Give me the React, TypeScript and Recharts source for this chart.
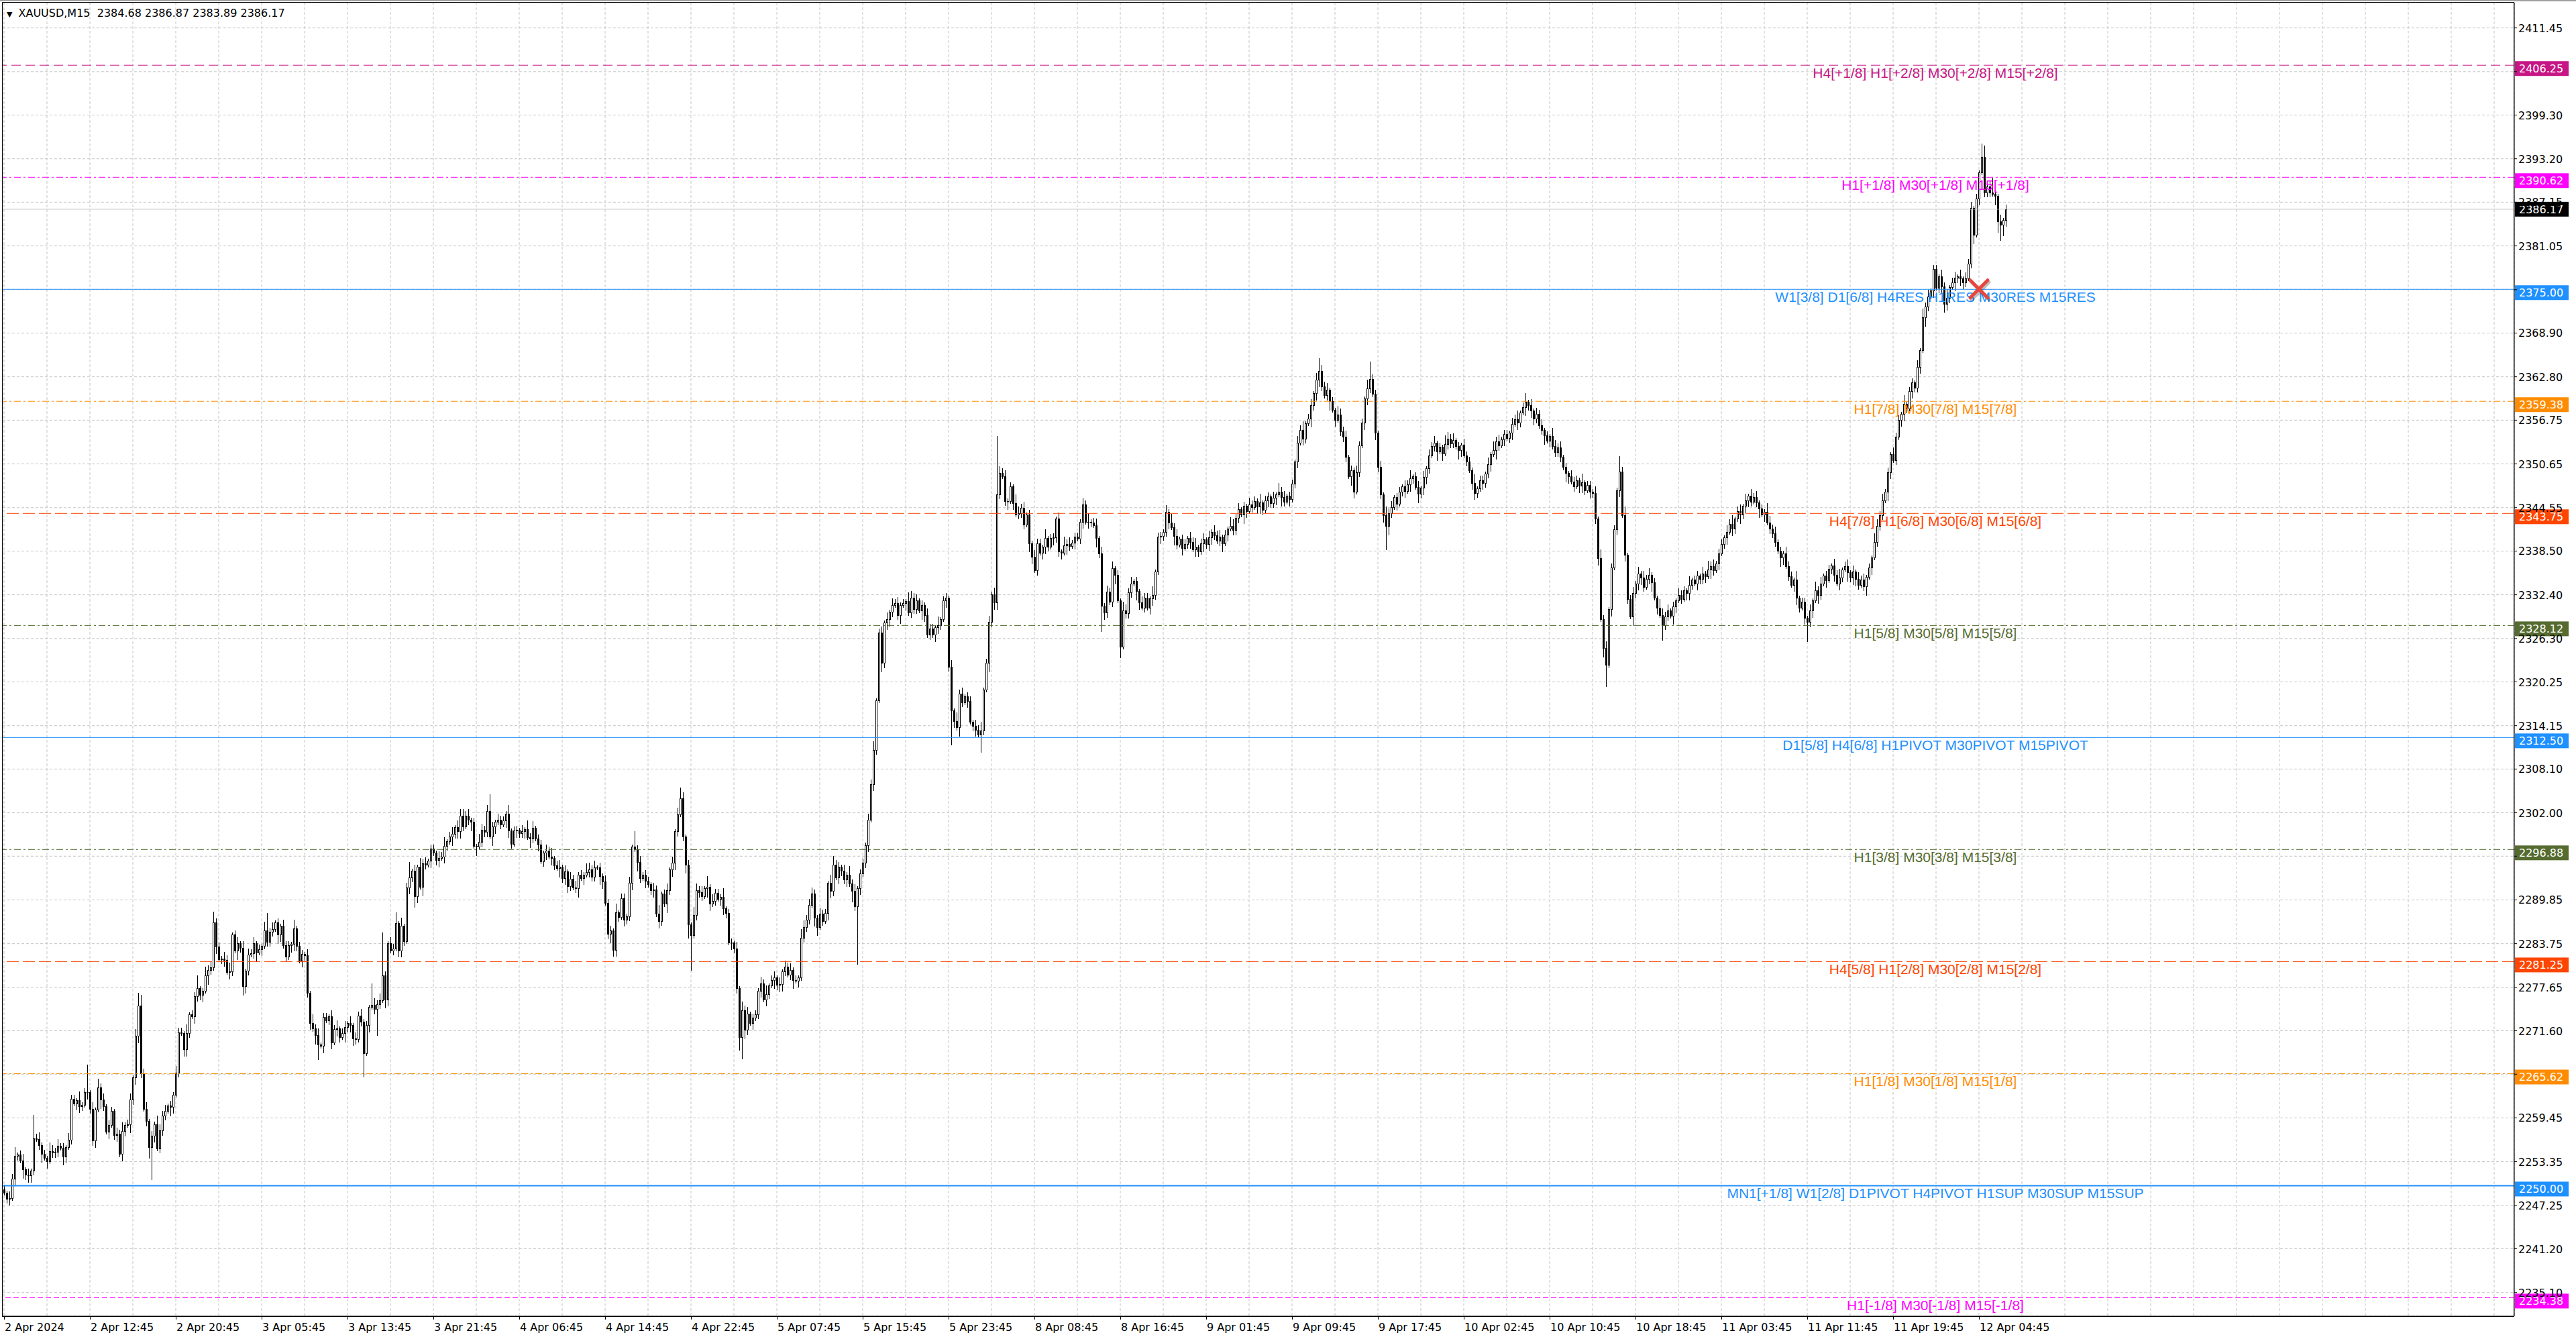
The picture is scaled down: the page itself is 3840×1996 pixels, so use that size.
import React from "react";
import {
  Bar,
  CartesianGrid,
  ComposedChart,
  ReferenceDot,
  ReferenceLine,
  XAxis,
  YAxis,
} from "recharts";

// XAUUSD M15, one entry per candle; open = previous close
const firstOpen = 2249.5;
const closes = [
  /* 0 */ 2249.0, 2248.2, 2248.3, 2251.0, 2254.2, 2254.3, 2253.5, 2252.3, 2251.5, 2251.4,
  /* 10 */ 2252.1, 2256.6, 2256.5, 2255.7, 2254.4, 2253.9, 2253.4, 2254.8, 2254.6, 2254.7,
  /* 20 */ 2255.6, 2255.3, 2254.1, 2255.4, 2256.4, 2262.1, 2261.5, 2261.9, 2261.1, 2261.3,
  /* 30 */ 2263.0, 2263.0, 2260.7, 2256.3, 2260.6, 2263.7, 2262.0, 2261.1, 2257.5, 2258.5,
  /* 40 */ 2260.4, 2257.1, 2257.2, 2254.4, 2257.6, 2258.5, 2258.6, 2262.0, 2265.1, 2270.9,
  /* 50 */ 2275.1, 2265.7, 2260.7, 2259.0, 2255.4, 2257.0, 2258.6, 2255.2, 2257.7, 2259.8,
  /* 60 */ 2260.4, 2261.2, 2261.0, 2262.7, 2265.8, 2271.4, 2271.3, 2269.0, 2271.3, 2273.9,
  /* 70 */ 2273.6, 2276.4, 2277.5, 2276.6, 2277.2, 2279.3, 2280.1, 2280.4, 2286.7, 2283.3,
  /* 80 */ 2281.6, 2281.7, 2281.5, 2279.8, 2279.9, 2285.0, 2282.8, 2283.8, 2283.2, 2277.8,
  /* 90 */ 2280.0, 2282.2, 2282.4, 2283.8, 2282.5, 2283.0, 2283.4, 2285.6, 2284.0, 2285.4,
  /* 100 */ 2285.8, 2286.7, 2285.0, 2286.2, 2283.5, 2281.9, 2283.5, 2283.7, 2285.9, 2283.4,
  /* 110 */ 2281.4, 2282.3, 2282.1, 2276.9, 2272.7, 2271.9, 2271.0, 2269.7, 2269.5, 2273.5,
  /* 120 */ 2273.1, 2273.6, 2270.0, 2271.8, 2271.9, 2270.7, 2271.3, 2272.1, 2272.7, 2272.4,
  /* 130 */ 2270.5, 2270.4, 2273.7, 2272.9, 2268.5, 2272.4, 2274.9, 2275.2, 2274.6, 2275.3,
  /* 140 */ 2275.9, 2279.3, 2276.0, 2283.8, 2282.8, 2283.1, 2286.6, 2282.8, 2286.2, 2284.1,
  /* 150 */ 2291.6, 2293.0, 2293.9, 2290.4, 2294.5, 2291.7, 2294.9, 2294.8, 2295.3, 2297.0,
  /* 160 */ 2296.4, 2295.4, 2295.7, 2295.9, 2297.4, 2298.0, 2298.7, 2299.1, 2300.0, 2299.4,
  /* 170 */ 2301.6, 2300.1, 2301.6, 2301.0, 2300.7, 2297.4, 2297.3, 2297.9, 2299.6, 2299.3,
  /* 180 */ 2302.2, 2298.7, 2300.1, 2300.7, 2301.0, 2300.4, 2300.9, 2301.9, 2299.5, 2297.7,
  /* 190 */ 2299.5, 2299.6, 2299.2, 2299.4, 2299.7, 2298.6, 2298.4, 2299.9, 2298.4, 2297.6,
  /* 200 */ 2295.2, 2296.4, 2296.7, 2295.9, 2295.7, 2294.7, 2294.3, 2294.5, 2292.9, 2293.8,
  /* 210 */ 2291.8, 2292.8, 2291.6, 2291.5, 2293.4, 2292.9, 2293.4, 2293.7, 2294.1, 2293.1,
  /* 220 */ 2294.4, 2294.4, 2293.2, 2292.4, 2289.4, 2285.1, 2285.6, 2282.9, 2288.1, 2287.5,
  /* 230 */ 2290.1, 2287.1, 2287.6, 2292.2, 2297.3, 2296.9, 2295.1, 2292.9, 2293.4, 2292.5,
  /* 240 */ 2292.0, 2291.2, 2291.3, 2287.9, 2286.9, 2290.7, 2289.3, 2291.2, 2294.1, 2295.0,
  /* 250 */ 2299.4, 2301.8, 2304.0, 2298.7, 2294.8, 2286.4, 2284.9, 2287.7, 2291.2, 2290.9,
  /* 260 */ 2290.4, 2291.5, 2291.7, 2289.3, 2289.7, 2290.8, 2290.0, 2290.3, 2288.7, 2288.0,
  /* 270 */ 2283.9, 2283.9, 2283.1, 2277.5, 2270.7, 2274.5, 2271.7, 2274.0, 2272.7, 2273.4,
  /* 280 */ 2273.9, 2277.2, 2278.2, 2276.0, 2276.7, 2277.9, 2278.7, 2279.0, 2278.0, 2278.1,
  /* 290 */ 2279.9, 2280.5, 2279.4, 2280.1, 2278.7, 2278.6, 2279.0, 2284.6, 2286.1, 2287.1,
  /* 300 */ 2289.1, 2290.7, 2287.4, 2286.1, 2287.9, 2286.9, 2288.0, 2292.2, 2291.1, 2294.8,
  /* 310 */ 2293.0, 2294.5, 2293.9, 2292.7, 2293.4, 2292.1, 2291.1, 2289.0, 2291.5, 2293.5,
  /* 320 */ 2295.0, 2297.5, 2301.0, 2306.0, 2310.8, 2317.7, 2327.1, 2322.9, 2328.5, 2329.0,
  /* 330 */ 2330.0, 2331.0, 2331.2, 2329.6, 2331.0, 2331.2, 2331.5, 2329.9, 2332.0, 2330.4,
  /* 340 */ 2331.6, 2330.2, 2331.0, 2329.6, 2326.8, 2327.7, 2326.8, 2327.9, 2328.2, 2329.0,
  /* 350 */ 2331.6, 2332.0, 2322.4, 2316.3, 2314.8, 2313.9, 2318.6, 2317.4, 2318.2, 2317.6,
  /* 360 */ 2314.7, 2314.1, 2313.6, 2312.9, 2313.5, 2319.2, 2322.9, 2328.6, 2332.5, 2331.3,
  /* 370 */ 2346.4, 2349.4, 2348.9, 2345.5, 2345.5, 2347.5, 2345.2, 2343.6, 2343.8, 2344.5,
  /* 380 */ 2342.2, 2343.6, 2339.6, 2337.7, 2335.8, 2339.6, 2338.3, 2339.1, 2340.3, 2339.1,
  /* 390 */ 2340.3, 2340.4, 2343.0, 2338.4, 2338.3, 2339.3, 2339.5, 2339.2, 2339.7, 2340.5,
  /* 400 */ 2340.2, 2342.6, 2345.0, 2342.6, 2342.6, 2342.5, 2342.1, 2340.3, 2338.2, 2330.9,
  /* 410 */ 2329.9, 2332.8, 2331.4, 2336.1, 2335.2, 2331.6, 2325.2, 2330.2, 2329.8, 2332.7,
  /* 420 */ 2334.0, 2334.3, 2332.9, 2331.3, 2330.6, 2332.0, 2330.6, 2331.9, 2332.4, 2335.6,
  /* 430 */ 2340.5, 2340.6, 2341.2, 2344.0, 2342.5, 2341.8, 2340.6, 2339.4, 2340.2, 2338.9,
  /* 440 */ 2339.5, 2340.3, 2339.8, 2338.7, 2339.1, 2338.4, 2339.6, 2340.1, 2339.5, 2340.4,
  /* 450 */ 2341.2, 2340.7, 2339.9, 2340.5, 2339.6, 2340.8, 2341.6, 2342.0, 2341.4, 2343.1,
  /* 460 */ 2344.3, 2343.6, 2344.8, 2344.1, 2345.0, 2344.6, 2345.5, 2344.7, 2345.3, 2344.2,
  /* 470 */ 2345.6, 2346.1, 2345.2, 2345.9, 2346.4, 2346.8, 2346.0, 2345.4, 2346.2, 2345.7,
  /* 480 */ 2347.9, 2351.0, 2353.6, 2355.4, 2354.2, 2356.3, 2357.0, 2358.8, 2360.5, 2362.4,
  /* 490 */ 2363.6, 2361.5, 2360.2, 2361.0, 2359.4, 2358.2, 2356.8, 2357.5, 2355.2, 2354.4,
  /* 500 */ 2351.6, 2348.9, 2349.8, 2346.8, 2349.5, 2353.2, 2356.4, 2359.8, 2361.2, 2362.5,
  /* 510 */ 2360.4, 2355.0, 2350.2, 2346.4, 2343.5, 2342.0, 2343.8, 2344.6, 2346.0, 2345.1,
  /* 520 */ 2346.8, 2347.5, 2346.9, 2347.8, 2348.6, 2348.9, 2347.4, 2346.5, 2347.3, 2348.8,
  /* 530 */ 2350.0, 2351.8, 2353.1, 2353.6, 2352.4, 2353.0, 2352.1, 2353.4, 2354.2, 2353.5,
  /* 540 */ 2354.0, 2353.1, 2352.6, 2353.3, 2351.8, 2351.0, 2349.8, 2348.0, 2346.6, 2347.2,
  /* 550 */ 2348.4, 2348.0, 2349.3, 2350.6, 2352.0, 2352.6, 2353.8, 2353.2, 2354.1, 2354.8,
  /* 560 */ 2354.3, 2355.0, 2356.2, 2356.9, 2356.4, 2357.8, 2358.6, 2359.3, 2358.8, 2358.1,
  /* 570 */ 2357.0, 2357.6, 2356.0, 2355.4, 2354.6, 2353.9, 2354.5, 2353.1, 2352.3, 2352.9,
  /* 580 */ 2351.6, 2350.2, 2349.4, 2348.9, 2348.2, 2347.5, 2348.4, 2347.6, 2348.1, 2347.0,
  /* 590 */ 2347.7, 2346.8, 2346.6, 2343.0, 2337.5, 2329.0, 2325.0, 2322.6, 2330.4, 2336.2,
  /* 600 */ 2341.5, 2347.0, 2349.6, 2343.5, 2338.0, 2331.8, 2329.4, 2332.6, 2334.0, 2335.4,
  /* 610 */ 2334.8, 2333.5, 2334.6, 2335.2, 2334.1, 2332.0, 2330.6, 2329.6, 2328.2, 2329.4,
  /* 620 */ 2330.2, 2329.5, 2330.8, 2331.6, 2332.4, 2331.8, 2333.0, 2332.6, 2333.8, 2334.5,
  /* 630 */ 2334.0, 2335.1, 2334.6, 2335.4, 2335.0, 2335.9, 2336.4, 2335.8, 2336.8, 2338.2,
  /* 640 */ 2339.5, 2340.4, 2341.2, 2342.3, 2341.6, 2343.0, 2344.1, 2343.6, 2344.8, 2345.6,
  /* 650 */ 2346.2, 2345.4, 2346.0, 2345.3, 2344.4, 2343.6, 2344.0, 2342.5, 2341.6, 2341.0,
  /* 660 */ 2339.8, 2338.5, 2337.6, 2338.2, 2336.4, 2335.0, 2333.8, 2334.5, 2332.0, 2330.6,
  /* 670 */ 2331.4, 2329.2, 2328.6, 2330.2, 2331.6, 2333.0, 2332.4, 2334.0, 2335.1, 2334.4,
  /* 680 */ 2336.0, 2336.5, 2335.2, 2334.0, 2334.8, 2335.9, 2336.4, 2335.5, 2334.8, 2335.6,
  /* 690 */ 2334.6, 2333.8, 2334.5, 2333.6, 2334.9, 2336.2, 2337.6, 2339.8, 2342.0, 2343.5,
  /* 700 */ 2345.6, 2346.8, 2349.5, 2352.0, 2351.2, 2354.4, 2356.8, 2357.6, 2359.0, 2358.4,
  /* 710 */ 2360.8, 2362.0, 2361.3, 2364.2, 2366.5, 2371.1, 2372.6, 2374.0, 2374.8, 2377.8,
  /* 720 */ 2375.2, 2376.8, 2375.4, 2373.0, 2373.8, 2375.3, 2376.0, 2376.6, 2376.8, 2376.5,
  /* 730 */ 2376.0, 2376.5, 2378.6, 2386.3, 2382.6, 2387.7, 2391.3, 2393.5, 2388.5, 2389.3,
  /* 740 */ 2388.5, 2388.3, 2388.0, 2384.5, 2384.0, 2384.68, 2386.17,
];

// wick lengths per candle, one base-36 digit each, in steps of 0.3
const wickUp = [
  "2132412313", "1b23121432", "3121322141", "2d13142312", "2132412313",
  "6523121432", "3121322141", "2261142352", "2132412313", "1323121482",
  "3121322141", "2213142312", "2132412313", "1323121a32", "3k21325141",
  "2713142312", "2132412313", "3323121432", "3821322141", "2213142312",
  "2132412313", "1323121432", "3121322141", "2213172312", "2132412313",
  "1353121432", "3151322141", "2213142312", "2132412313", "1323121432",
  "3321322144", "2213142312", "2132412313", "1323121432", "3121322141",
  "2213142312", "2132412313", "r323121432", "3121322141", "2213142312",
  "2132412313", "1323121432", "3121322141", "2213142312", "2132412313",
  "1323121432", "3121322141", "2213142312", "2132412313", "6323121432",
  "3121322148", "2213142312", "2132412313", "1323121432", "3121322141",
  "2213142312", "2132412413", "1323121432", "3121322141", "2213142312",
  "2172412313", "1323121432", "3121322141", "2213142312", "2132412313",
  "1323121432", "3121322141", "2213142312", "2132412313", "1323121432",
  "3121322141", "2213142312", "2132412313", "1323121652", "3721312",
].join("");
const wickDn = [
  "1231321423", "3212413122", "2143121332", "1322314213", "1231321423",
  "32125f3122", "2143121332", "1322314213", "1231321424", "3212413122",
  "2143121332", "1322314713", "1231321423", "3212b1312c", "2143121332",
  "1325314213", "1231321423", "3212414122", "2143121332", "1322314213",
  "1231321423", "3212413122", "2143124332", "1322314213", "1231321423",
  "321246g122", "2143121332", "13226a4213", "1231321423", "3212413122",
  "2144121332", "13223152r3", "1231321423", "3212413122", "2143121332",
  "132g314213", "1231821423", "3212413122", "2143121332", "1322314213",
  "123132142c", "3212415122", "2143121332", "1322314213", "1231321423",
  "3212413122", "2143121332", "1322314213", "1231321423", "3212413122",
  "2143121332", "13223b4213", "1231321423", "3212413122", "2143121332",
  "1322314213", "1231321423", "3212413122", "2143121332", "1322314a13",
  "1231321423", "3212413172", "2143121332", "1322314213", "1231321423",
  "3212413122", "2143121332", "1392314213", "1231321423", "3212413122",
  "2143121332", "1322314213", "1234321423", "3212413122", "2145753",
].join("");
const WICK_STEP = 0.3;

const timeLabels = [
  "2 Apr 2024", "2 Apr 12:45", "2 Apr 20:45", "3 Apr 05:45", "3 Apr 13:45",
  "3 Apr 21:45", "4 Apr 06:45", "4 Apr 14:45", "4 Apr 22:45", "5 Apr 07:45",
  "5 Apr 15:45", "5 Apr 23:45", "8 Apr 08:45", "8 Apr 16:45", "9 Apr 01:45",
  "9 Apr 09:45", "9 Apr 17:45", "10 Apr 02:45", "10 Apr 10:45", "10 Apr 18:45",
  "11 Apr 03:45", "11 Apr 11:45", "11 Apr 19:45", "12 Apr 04:45",
];

const priceTicks = [
  2411.45, 2405.35, 2399.3, 2393.2, 2387.15, 2381.05, 2374.95, 2368.9, 2362.8,
  2356.75, 2350.65, 2344.55, 2338.5, 2332.4, 2326.3, 2320.25, 2314.15, 2308.1,
  2302.0, 2295.95, 2289.85, 2283.75, 2277.65, 2271.6, 2265.55, 2259.45, 2253.35,
  2247.25, 2241.2, 2235.1,
];
const hiddenTicks = [2405.35, 2374.95, 2295.95, 2265.55];

const levelPrices = [
  2406.25, 2390.62, 2375.0, 2359.38, 2343.75, 2328.12, 2312.5, 2296.88, 2281.25,
  2265.62, 2250.0, 2234.38,
];
const levelNames = [
  "H4[+1/8] H1[+2/8] M30[+2/8] M15[+2/8]",
  "H1[+1/8] M30[+1/8] M15[+1/8]",
  "W1[3/8] D1[6/8] H4RES H1RES M30RES M15RES",
  "H1[7/8] M30[7/8] M15[7/8]",
  "H4[7/8] H1[6/8] M30[6/8] M15[6/8]",
  "H1[5/8] M30[5/8] M15[5/8]",
  "D1[5/8] H4[6/8] H1PIVOT M30PIVOT M15PIVOT",
  "H1[3/8] M30[3/8] M15[3/8]",
  "H4[5/8] H1[2/8] M30[2/8] M15[2/8]",
  "H1[1/8] M30[1/8] M15[1/8]",
  "MN1[+1/8] W1[2/8] D1PIVOT H4PIVOT H1SUP M30SUP M15SUP",
  "H1[-1/8] M30[-1/8] M15[-1/8]",
];
const levelColors = [
  "#C71585", "#FF00FF", "#1E90FF", "#FF8C00", "#FF4500", "#556B2F",
  "#1E90FF", "#556B2F", "#FF4500", "#FF8C00", "#1E90FF", "#FF00FF",
];
const levelDashes = [
  "14 7", "10 4 3 4", "", "10 4 3 4", "18 6", "10 4 3 4",
  "", "10 4 3 4", "18 6", "10 4 3 4", "", "8 4",
];

const symbol = "XAUUSD,M15";
const lastBar = ["2384.68", "2386.87", "2383.89", "2386.17"];
const bidPrice = 2386.17;
const signal = { index: 736, price: 2375.05 };

const SLOTS = 936;
const Y_MIN = 2231.8;
const Y_MAX = 2414.97;
const AXIS_FONT = "'DejaVu Sans', Tahoma, sans-serif";
const LABEL_FONT = "'Liberation Sans', Arial, sans-serif";
const LABEL_X = 0.7695;

const candles = Array.from({ length: SLOTS }, (_, i) => {
  if (i >= closes.length) return { i, range: null };
  const open = i === 0 ? firstOpen : closes[i - 1];
  const close = closes[i];
  const high = Math.max(open, close) + parseInt(wickUp[i] || "0", 36) * WICK_STEP;
  const low = Math.min(open, close) - parseInt(wickDn[i] || "0", 36) * WICK_STEP;
  return { i, open, close, high, low, range: [low, high] };
});

const xTicks = Array.from({ length: Math.ceil(SLOTS / 16) }, (_, k) => k * 16);

function Candle(props: any) {
  const { x, y, width, height, payload } = props;
  if (!payload || payload.range == null) return null;
  const { open, close, high, low } = payload;
  const yHi = Math.min(y, y + height);
  const yLo = Math.max(y, y + height);
  const ppu = (yLo - yHi) / (high - low || 1);
  const cx = Math.floor(x) + 1.5;
  const yO = yHi + (high - open) * ppu;
  const yC = yHi + (high - close) * ppu;
  const top = Math.round(Math.min(yO, yC)) + 0.5;
  const bot = Math.round(Math.max(yO, yC)) + 0.5;
  const bull = close >= open;
  return (
    <g>
      <line x1={cx} x2={cx} y1={Math.round(yHi)} y2={Math.round(yLo) + 1} stroke="#000" strokeWidth={1} />
      <rect
        x={cx - 1}
        y={top}
        width={2}
        height={Math.max(bot - top, 0.5)}
        fill={bull ? "#fff" : "#000"}
        stroke="#000"
        strokeWidth={1}
      />
    </g>
  );
}

function XTick(props: any) {
  const { x, y, payload } = props;
  const k = payload.value / 32;
  if (!Number.isInteger(k) || !timeLabels[k]) return null;
  return (
    <g>
      <line x1={Math.round(x) + 0.5} x2={Math.round(x) + 0.5} y1={y} y2={y + 5} stroke="#000" />
      <text x={x + 1} y={y + 22} fontFamily={AXIS_FONT} fontSize={16} fill="#000">
        {timeLabels[k]}
      </text>
    </g>
  );
}

function YTick(props: any) {
  const { x, y, payload } = props;
  if (hiddenTicks.includes(payload.value)) return null;
  return (
    <text x={x} y={y + 6} fontFamily={AXIS_FONT} fontSize={16} fill="#000">
      {payload.value.toFixed(2)}
    </text>
  );
}

function LevelTag(props: any) {
  const { viewBox, text, color, price, textColor, shift } = props;
  if (!viewBox) return null;
  const { x, y, width } = viewBox;
  const right = x + width;
  return (
    <g>
      {text ? (
        <text
          x={x + width * LABEL_X}
          y={y + 19}
          textAnchor="middle"
          fontFamily={LABEL_FONT}
          fontSize={21}
          fill={color}
        >
          {text}
        </text>
      ) : null}
      <rect x={right + 1} y={y + shift - 11} width={80} height={22} fill={color} />
      <text x={right + 7} y={y + shift + 6} fontFamily={AXIS_FONT} fontSize={16} fill={textColor}>
        {price.toFixed(2)}
      </text>
    </g>
  );
}

function Cross(props: any) {
  const { cx, cy } = props;
  const r = 13;
  return (
    <g>
      <g stroke="rgba(0,0,0,0.25)" strokeWidth={5} strokeLinecap="round">
        <line x1={cx - r + 2} y1={cy - r + 3} x2={cx + r + 2} y2={cy + r + 3} />
        <line x1={cx + r + 2} y1={cy - r + 3} x2={cx - r + 2} y2={cy + r + 3} />
      </g>
      <g stroke="#E8453C" strokeWidth={5} strokeLinecap="round">
        <line x1={cx - r} y1={cy - r} x2={cx + r} y2={cy + r} />
        <line x1={cx + r} y1={cy - r} x2={cx - r} y2={cy + r} />
      </g>
    </g>
  );
}

export default function App() {
  return (
    <div
      style={{
        position: "fixed",
        left: 0,
        top: 0,
        width: 3840,
        height: 1996,
        background: "#fff",
        overflow: "hidden",
      }}
    >
      <ComposedChart
        width={3840}
        height={1996}
        data={candles}
        margin={{ top: 4, right: 0, bottom: 0, left: 4 }}
        barCategoryGap={0}
        barGap={0}
      >
        <CartesianGrid stroke="#c4c4c4" strokeDasharray="4 3" />
        <XAxis
          dataKey="i"
          type="category"
          ticks={xTicks}
          interval={0}
          height={34}
          axisLine={{ stroke: "#000" }}
          tickLine={false}
          tickSize={0}
          tickMargin={0}
          tick={<XTick />}
        />
        <YAxis
          orientation="right"
          type="number"
          width={92}
          domain={[Y_MIN, Y_MAX]}
          allowDataOverflow
          ticks={priceTicks}
          interval={0}
          axisLine={{ stroke: "#000" }}
          tickLine={{ stroke: "#000" }}
          tickSize={4}
          tickMargin={2}
          tick={<YTick />}
        />
        <Bar dataKey="range" barSize={3} shape={<Candle />} isAnimationActive={false} />
        <ReferenceLine
          y={bidPrice}
          stroke="#c0c0c0"
          strokeWidth={1}
          label={<LevelTag text="" color="#000" textColor="#fff" price={bidPrice} shift={0} />}
        />
        {levelPrices.map((p, k) => (
          <ReferenceLine
            key={p}
            y={p}
            stroke={levelColors[k]}
            strokeWidth={p === 2250 ? 2 : 1}
            strokeDasharray={levelDashes[k] || undefined}
            label={
              <LevelTag
                text={levelNames[k]}
                color={levelColors[k]}
                textColor="#fff"
                price={p}
                shift={5}
              />
            }
          />
        ))}
        <ReferenceDot x={signal.index} y={signal.price} shape={<Cross />} />
      </ComposedChart>
      <div
        style={{
          position: "absolute",
          left: 3,
          top: 3,
          width: 3745,
          height: 1960,
          border: "1px solid #000",
          boxSizing: "border-box",
          pointerEvents: "none",
        }}
      />
      <div
        style={{
          position: "absolute",
          left: 0,
          top: 0,
          width: 3840,
          height: 2,
          background: "#a0a0a0",
        }}
      />
      <div
        style={{
          position: "absolute",
          left: 10,
          top: 10,
          fontFamily: AXIS_FONT,
          fontSize: 16,
          color: "#000",
          whiteSpace: "pre",
          lineHeight: "20px",
        }}
      >
        <span style={{ fontSize: 11, marginRight: 9 }}>▼</span>
        {symbol + "  " + lastBar.join(" ")}
      </div>
    </div>
  );
}
